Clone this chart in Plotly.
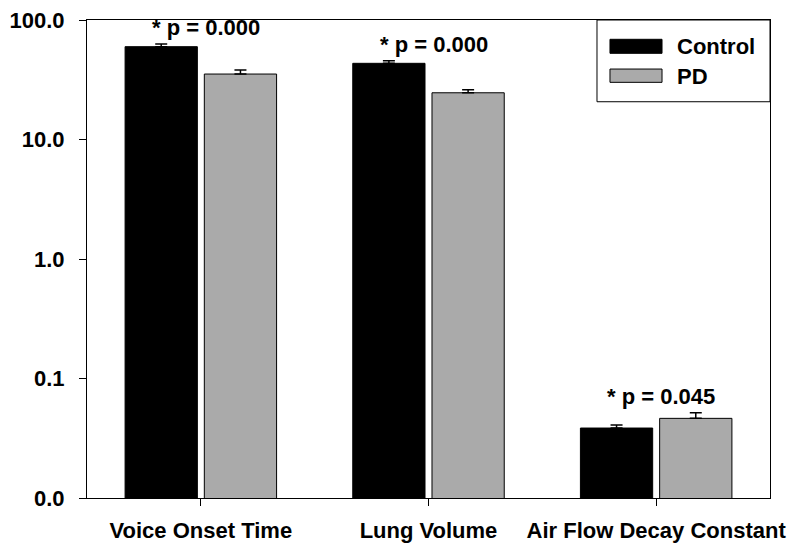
import math
import plotly.graph_objects as go

categories = ["Voice Onset Time", "Lung Volume", "Air Flow Decay Constant"]
series_names = ["Control", "PD"]
control_vals = [59.8, 43.4, 0.0385]
control_err = [3.2, 2.2, 0.0023]
pd_vals = [35.3, 24.6, 0.0464]
pd_err = [2.8, 1.5, 0.0054]
p_labels = ["* p = 0.000", "* p = 0.000", "* p = 0.045"]
tick_vals = [0.01, 0.1, 1, 10, 100]
tick_text = ["0.0", "0.1", "1.0", "10.0", "100.0"]

colors = ["#000000", "#aaaaaa"]
FONT = "Liberation Sans, Arial, Helvetica, sans-serif"

fig = go.Figure()
for name, vals, errs, col in [(series_names[0], control_vals, control_err, colors[0]),
                              (series_names[1], pd_vals, pd_err, colors[1])]:
    fig.add_trace(go.Bar(
        x=categories, y=vals, name=name,
        marker=dict(color=col, line=dict(color="#000000", width=1)),
        error_y=dict(type="data", array=errs, arrayminus=[0] * len(errs),
                     symmetric=False, color="#000000", thickness=1.5, width=6),
        showlegend=False,
    ))

# p-value annotations above each group
for i, cat in enumerate(categories):
    top = max(control_vals[i] + control_err[i], pd_vals[i] + pd_err[i])
    fig.add_annotation(x=cat, y=math.log10(top), text="<b>%s</b>" % p_labels[i],
                       showarrow=False, xanchor="center", yanchor="bottom",
                       xshift=5, yshift=2,
                       font=dict(family=FONT, size=22, color="#000000"))

# legend box (paper coordinates)
fig.add_shape(type="rect", xref="paper", yref="paper", x0=0.7467, x1=1.0, y0=0.829, y1=1.0,
              line=dict(color="#000000", width=1), fillcolor="rgba(255,255,255,1)", layer="above")
sw_y = [(0.9303, 0.9596), (0.8696, 0.8974)]
txt_y = [0.944, 0.8813]
for k, name in enumerate(series_names):
    fig.add_shape(type="rect", xref="paper", yref="paper", x0=0.7657, x1=0.8419,
                  y0=sw_y[k][0], y1=sw_y[k][1],
                  line=dict(color="#000000", width=1), fillcolor=colors[k], layer="above")
    fig.add_annotation(xref="paper", yref="paper", x=0.861, y=txt_y[k], text="<b>%s</b>" % name,
                       showarrow=False, xanchor="left", yanchor="middle",
                       font=dict(family=FONT, size=22, color="#000000"))

# page body has an 8px margin, so the figure is sized to fill the remaining window
fig.update_layout(
    width=789, height=539,
    margin=dict(l=79, r=27, t=12, b=49, autoexpand=False),
    paper_bgcolor="white", plot_bgcolor="white",
    barmode="group", bargap=0.304, bargroupgap=0.088,
    font=dict(family=FONT, size=21, color="#000000"),
    showlegend=False,
)
fig.update_xaxes(
    automargin=False,
    showline=True, linecolor="#000000", linewidth=1, mirror=True,
    ticks="outside", ticklen=7, tickcolor="#000000", tickwidth=1,
    showgrid=False, zeroline=False,
    tickfont=dict(family=FONT, size=22, color="#000000"),
    tickvals=categories, ticktext=["<b>%s</b>" % c for c in categories],
    range=[-0.5, 2.5], ticklabelstandoff=6, ticklabeloverflow="allow",
)
fig.update_yaxes(
    automargin=False,
    type="log", range=[-2, 2],
    showline=True, linecolor="#000000", linewidth=1, mirror=True,
    ticks="outside", ticklen=7, tickcolor="#000000", tickwidth=1,
    showgrid=False, zeroline=False,
    tickvals=tick_vals, ticktext=["<b>%s</b>" % t for t in tick_text],
    tickfont=dict(family=FONT, size=22, color="#000000"),
    ticklabelstandoff=10, ticklabeloverflow="allow",
)

fig.write_html("out.html")
